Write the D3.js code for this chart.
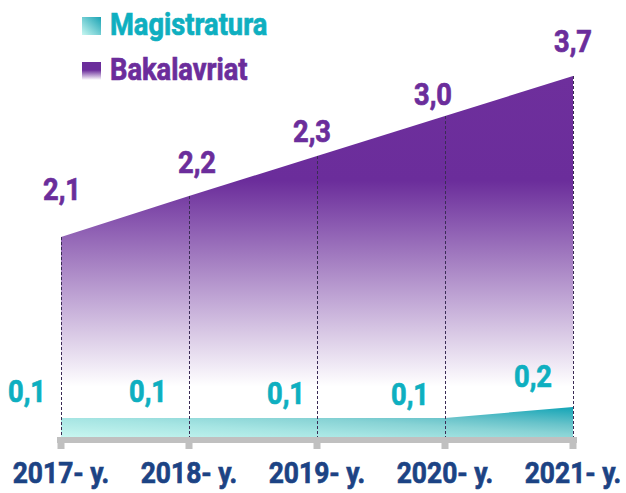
<!DOCTYPE html>
<html><head><meta charset="utf-8">
<script src="https://cdn.jsdelivr.net/npm/d3@7"></script>
<style>
html,body{margin:0;padding:0;background:#fff;}
svg{display:block;font-family:Roboto,"Noto Sans",sans-serif;font-weight:700;}
</style></head>
<body><svg id="chart" width="626" height="493"></svg>
<script>
const years = ["2017- y.", "2018- y.", "2019- y.", "2020- y.", "2021- y."];
const bakalavriat = [2.1, 2.2, 2.3, 3.0, 3.7];
const magistratura = [0.1, 0.1, 0.1, 0.1, 0.2];
const seriesNames = ["Magistratura", "Bakalavriat"];

const W = 626, H = 493;
const svg = d3.select("#chart");
const defs = svg.append("defs");

const purple = "#6b2d9b", teal = "#0eafc0", navy = "#1c4384";

const x = d3.scalePoint().domain(years).range([61, 573]);
// the source chart is not drawn to scale; a piecewise-linear scale reproduces its geometry
const y = d3.scaleLinear()
  .domain([0, 0.1, 0.2, 2.1, 2.2, 2.3, 3.0, 3.7])
  .range([437, 418, 407, 237, 196, 156, 116, 76]);

// label placement nudges as in the source (layout only)
const nudgeB = [[1, -37], [8, -23], [-5, -14], [-12, -11], [0, -24]];
const nudgeM = [[-34, -16], [-41, -16], [-31, -14], [-35, -13], [-40, -20]];

// gradients
const gP = defs.append("linearGradient").attr("id", "gP")
  .attr("gradientUnits", "userSpaceOnUse").attr("x1", 0).attr("x2", 0).attr("y1", y(3.7)).attr("y2", y(0));
gP.append("stop").attr("offset", 0).attr("stop-color", "#6e2f9c");
gP.append("stop").attr("offset", 0.29).attr("stop-color", "#6b2d9b");
gP.append("stop").attr("offset", 0.86).attr("stop-color", "#ffffff");
gP.append("stop").attr("offset", 1).attr("stop-color", "#ffffff");

const gT = defs.append("linearGradient").attr("id", "gT")
  .attr("x1", 0).attr("y1", 1).attr("x2", 1).attr("y2", 0);
gT.append("stop").attr("offset", 0).attr("stop-color", "#c8f6f0");
gT.append("stop").attr("offset", 0.32).attr("stop-color", "#a6e5e3");
gT.append("stop").attr("offset", 0.55).attr("stop-color", "#88d3d5");
gT.append("stop").attr("offset", 0.7).attr("stop-color", "#68c3ca");
gT.append("stop").attr("offset", 1).attr("stop-color", "#12a4b6");

const gPl = defs.append("linearGradient").attr("id", "gPl")
  .attr("x1", 0).attr("x2", 0).attr("y1", 0).attr("y2", 1);
gPl.append("stop").attr("offset", 0).attr("stop-color", "#6b2d9b");
gPl.append("stop").attr("offset", 0.45).attr("stop-color", "#6b2d9b");
gPl.append("stop").attr("offset", 1).attr("stop-color", "#ffffff");

const gTl = defs.append("linearGradient").attr("id", "gTl")
  .attr("x1", 1).attr("y1", 0).attr("x2", 0).attr("y2", 1);
gTl.append("stop").attr("offset", 0).attr("stop-color", "#1aa3b4");
gTl.append("stop").attr("offset", 1).attr("stop-color", "#c8f7f1");

// areas
const area = d3.area().x((d, i) => x(years[i])).y0(y(0)).y1(d => y(d));
svg.append("path").datum(bakalavriat).attr("d", area).attr("fill", "url(#gP)");
svg.append("path").datum(magistratura).attr("d", area).attr("fill", "url(#gT)");

// dashed drop lines
svg.append("g").selectAll("line").data(bakalavriat).join("line")
  .attr("x1", (d, i) => x(years[i]) + 0.5).attr("x2", (d, i) => x(years[i]) + 0.5)
  .attr("y1", d => y(d)).attr("y2", y(0))
  .attr("stroke", "#3a2c55").attr("stroke-width", 1).attr("stroke-dasharray", "3,2");

// axis
const ax = svg.append("g");
ax.append("rect").attr("x", x(years[0]) - 4).attr("y", y(0))
  .attr("width", x(years[4]) - x(years[0]) + 8).attr("height", 6).attr("fill", "#c0c0c0");
ax.selectAll("rect.t").data(years).join("rect").attr("class", "t")
  .attr("x", d => x(d) - 3.5).attr("y", y(0) + 5).attr("width", 7).attr("height", 7).attr("fill", "#c0c0c0");

function txt(g, s, tx, ty, anchor, color, size) {
  g.append("text").attr("transform", `translate(${tx},${ty}) scale(0.88,1)`)
    .attr("text-anchor", anchor).attr("fill", color).attr("stroke", color)
    .attr("stroke-width", 0.7).attr("font-size", size).text(s);
}
const labels = svg.append("g");
years.forEach((yr, i) => {
  txt(labels, yr, x(yr), 483, "middle", navy, 30);
  txt(labels, bakalavriat[i].toFixed(1).replace(".", ","),
      x(yr) + nudgeB[i][0], y(bakalavriat[i]) + nudgeB[i][1], "middle", purple, 31);
  txt(labels, magistratura[i].toFixed(1).replace(".", ","),
      x(yr) + nudgeM[i][0], y(magistratura[i]) + nudgeM[i][1], "middle", teal, 31);
});

// legend
const lg = svg.append("g");
lg.append("rect").attr("x", 82).attr("y", 17).attr("width", 19).attr("height", 18).attr("fill", "url(#gTl)");
lg.append("rect").attr("x", 82).attr("y", 62).attr("width", 19).attr("height", 18).attr("fill", "url(#gPl)");
txt(lg, seriesNames[0], 110, 35, "start", teal, 31);
txt(lg, seriesNames[1], 110, 80, "start", purple, 31);
</script></body></html>
